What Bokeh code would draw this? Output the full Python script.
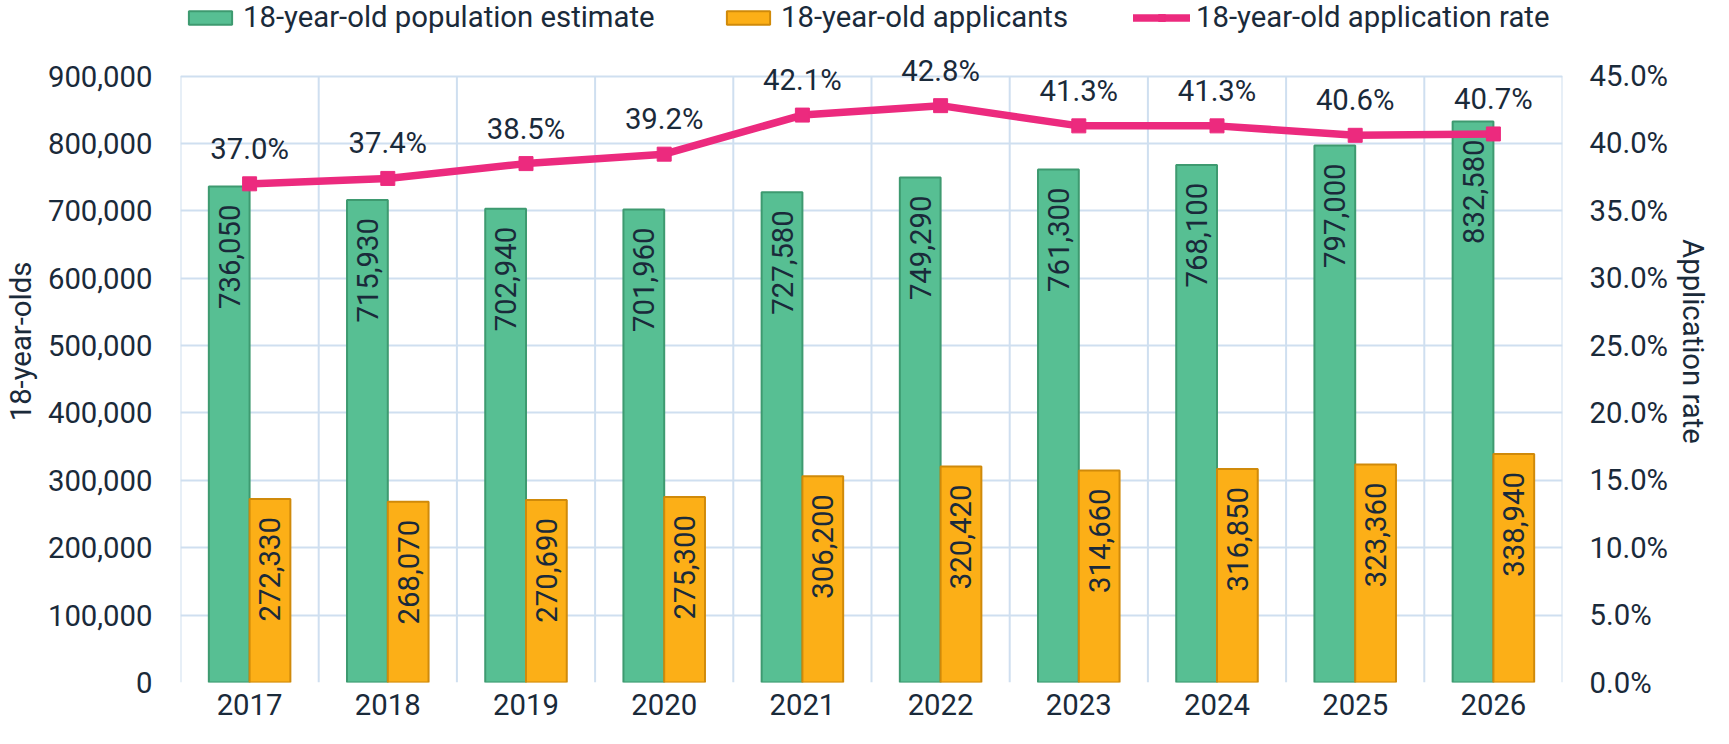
import numpy as np
from bokeh.plotting import figure
from bokeh.models import (ColumnDataSource, FactorRange, Range1d, LinearAxis, FixedTicker,
                          NumeralTickFormatter, LabelSet, Legend, LegendItem)
from bokeh.core.properties import value
from bokeh.transform import dodge
from bokeh.embed import file_html
from bokeh.resources import INLINE

years = ["2017", "2018", "2019", "2020", "2021", "2022", "2023", "2024", "2025", "2026"]
population = [736050, 715930, 702940, 701960, 727580, 749290, 761300, 768100, 797000, 832580]
applicants = [272330, 268070, 270690, 275300, 306200, 320420, 314660, 316850, 323360, 338940]
rate = [0.370, 0.374, 0.385, 0.392, 0.421, 0.428, 0.413, 0.413, 0.406, 0.407]
left_ticks = list(range(0, 900001, 100000))
right_ticks = [i * 0.05 for i in range(10)]

FONT = "Roboto"
FS = "29.3px"
TXT = "#1a2a3a"
GREEN, GREEN_L = "#57bf93", "#3e9a70"
ORANGE, ORANGE_L = "#fcaf17", "#d08a0a"
PINK = "#ec2a7e"
GRID = "#cfdff0"

# layout (pixels)
FIG_W, FIG_H = 1713, 728
BORDER_B = 46
FRAME_H = FIG_H - BORDER_B          # frame starts at the very top of the figure
TOP_GAP = 75.5                      # space above the top gridline (legend + labels)
scale = FRAME_H / (FRAME_H - TOP_GAP)
y_top = left_ticks[-1] * scale
r_top = right_ticks[-1] * scale

src = ColumnDataSource(dict(
    year=years, pop=population, app=applicants, rate=rate,
    pop_lbl=[f"{v:,}" for v in population],
    app_lbl=[f"{v:,}" for v in applicants],
    rate_lbl=[f"{v*100:.1f}%" for v in rate],
))

p = figure(width=FIG_W, height=FIG_H, x_range=FactorRange(factors=years, range_padding=0),
           y_range=Range1d(0, y_top), output_backend="svg", toolbar_location=None,
           min_border_left=176, min_border_right=148, min_border_top=0,
           min_border_bottom=BORDER_B)
p.extra_y_ranges = {"rate": Range1d(0, r_top)}
p.outline_line_color = None
p.background_fill_color = "white"

# grids
p.xgrid.visible = False
p.ygrid.ticker = FixedTicker(ticks=left_ticks)
p.ygrid.grid_line_color = GRID
p.ygrid.grid_line_width = 2
bounds = list(range(len(years) + 1))
p.segment(x0=bounds, x1=bounds, y0=[left_ticks[0]] * len(bounds),
          y1=[left_ticks[-1]] * len(bounds), line_color=GRID, line_width=2, level="underlay")

# axes
def style_axis(ax):
    ax.axis_line_color = None
    ax.major_tick_line_color = None
    ax.minor_tick_line_color = None
    ax.major_tick_out = 0
    ax.major_tick_in = 0
    ax.major_label_text_font = FONT
    ax.major_label_text_font_size = FS
    ax.major_label_text_color = TXT
    ax.axis_label_text_font = FONT
    ax.axis_label_text_font_size = FS
    ax.axis_label_text_font_style = "normal"
    ax.axis_label_text_color = TXT

style_axis(p.xaxis[0])
p.xaxis[0].major_label_standoff = 11

yl = p.yaxis[0]
style_axis(yl)
yl.ticker = FixedTicker(ticks=left_ticks)
yl.bounds = (left_ticks[0], left_ticks[-1])
yl.formatter = NumeralTickFormatter(format="0,0")
yl.axis_label = "18-year-olds"
yl.major_label_standoff = 28
yl.axis_label_standoff = 7

yr = LinearAxis(y_range_name="rate", axis_label="Application rate")
style_axis(yr)
yr.ticker = FixedTicker(ticks=right_ticks)
yr.bounds = (right_ticks[0], right_ticks[-1])
yr.formatter = NumeralTickFormatter(format="0.0%")
yr.major_label_standoff = 27
yr.axis_label_standoff = 5
p.add_layout(yr, "right")

W = 0.295
r_pop = p.vbar(x=dodge("year", -W / 2, range=p.x_range), top="pop", width=W, source=src,
               fill_color=GREEN, line_color=GREEN_L, line_width=2)
r_app = p.vbar(x=dodge("year", W / 2, range=p.x_range), top="app", width=W, source=src,
               fill_color=ORANGE, line_color=ORANGE_L, line_width=2)
r_line = p.line(x="year", y="rate", source=src, y_range_name="rate", line_color=PINK,
                line_width=7.5, line_cap="round", line_join="round")
r_mark = p.scatter(x="year", y="rate", source=src, y_range_name="rate", marker="square",
                   size=14, fill_color=PINK, line_color=PINK)

lbl_kw = dict(text_font=value(FONT), text_font_size=value(FS), text_color=TXT)
p.add_layout(LabelSet(x=dodge("year", -W / 2, range=p.x_range), y="pop", text="pop_lbl",
                      source=src, angle=np.pi / 2, text_align="right", text_baseline="middle",
                      y_offset=-18, **lbl_kw))
p.add_layout(LabelSet(x=dodge("year", W / 2, range=p.x_range), y="app", text="app_lbl",
                      source=src, angle=np.pi / 2, text_align="right", text_baseline="middle",
                      y_offset=-18, **lbl_kw))
p.add_layout(LabelSet(x="year", y="rate", text="rate_lbl", source=src, y_range_name="rate",
                      text_align="center", text_baseline="middle", y_offset=35, **lbl_kw))

LEG_Y = FRAME_H - 34
def make_legend(label, renderers, x, gw):
    lg = Legend(items=[LegendItem(label=label, renderers=renderers)], location=(x, LEG_Y),
                orientation="horizontal", border_line_color=None, background_fill_alpha=0,
                padding=0, margin=0, glyph_width=gw, glyph_height=17, label_standoff=6,
                label_text_font=FONT, label_text_font_size=FS, label_text_color=TXT)
    p.add_layout(lg, "center")

make_legend("18-year-old population estimate", [r_pop], 3, 54)
make_legend("18-year-old applicants", [r_app], 541, 54)
make_legend("18-year-old application rate", [r_line, r_mark], 953, 57)

open("out.html", "w").write(file_html(p, INLINE))
